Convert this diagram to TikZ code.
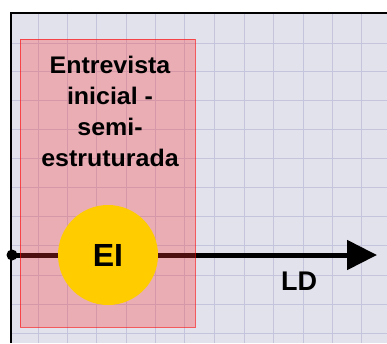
\documentclass[tikz,border=0pt]{standalone}
\usepackage{fontspec}
\setmainfont{Liberation Sans}[BoldFont={Liberation Sans Bold}]
\usetikzlibrary{arrows.meta}
\definecolor{paper}{RGB}{226,226,236}
\definecolor{gridblue}{RGB}{196,196,220}
\definecolor{eiyellow}{RGB}{255,204,0}

\begin{document}
\begin{tikzpicture}[x=1pt,y=-1pt,
    gridline/.style={draw=gridblue, line width=0.8pt},
    phase/.style={draw=red, line width=0.8pt, fill=red!80, fill opacity=0.3, draw opacity=0.6},
    marker/.style={circle, fill=eiyellow, minimum size=100pt, inner sep=0pt, font=\bfseries\fontsize{32}{36}\selectfont},
    lbl/.style={font=\bfseries\fontsize{24}{31}\selectfont, align=center, xscale=1.04}]
    \useasboundingbox (0,0) rectangle (387,343);
    % background and grid
    \fill[paper] (11,13) rectangle (387,343);
    \foreach \x in {38,67,96,126,155,184,214,244,273,303,332,361}
      \draw[gridline] (\x,13) -- (\x,343);
    \foreach \y in {43,71,100,129,158,187,216,245,275,304,333}
      \draw[gridline] (11,\y) -- (387,\y);
    \draw[line width=2pt] (11,343) -- (11,13) -- (387,13);
    % time line
    \coordinate (start) at (12,255);
    \coordinate (end) at (377,255);
    \draw[line width=5pt, -{Triangle[length=30pt,width=29pt]}] (start) -- (end);
    \fill (start) circle (5.5);
    % interview phase
    \node[phase, minimum width=175pt, minimum height=288pt, inner sep=0pt] (box) at (107.5,183) {};
    \node[lbl] (txt) at (110,111) {Entrevista\\inicial -\\semi-\\estruturada};
    \node[marker] (ei) at (108,255) {EI};
    \node[font=\bfseries\fontsize{27}{30}\selectfont] (ld) at (299,281) {LD};
  \end{tikzpicture}
\end{document}
